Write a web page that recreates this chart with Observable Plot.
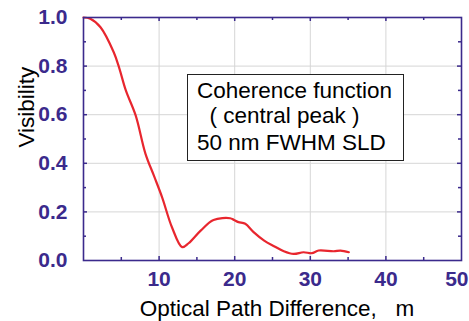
<!DOCTYPE html>
<html>
<head>
<meta charset="utf-8">
<script src="https://cdn.jsdelivr.net/npm/d3@7"></script>
<script src="https://cdn.jsdelivr.net/npm/@observablehq/plot@0.6"></script>
<style>
  html, body { margin: 0; padding: 0; background: #fff; }
  #wrap { position: relative; width: 469px; height: 321px; }
  svg text { white-space: pre; }
  #box {
    position: absolute; left: 187px; top: 74px; width: 215px; height: 85px;
    border: 1px solid #222; background: #fff;
    font-family: "Liberation Sans", Arial, sans-serif; font-size: 22.5px; color: #000;
    box-sizing: content-box;
  }
  #box div { position: absolute; left: 9px; white-space: pre; line-height: 1; }
</style>
</head>
<body>
<div id="wrap"></div>
<script>
// Data
const opd = [0, 0.9, 2.25, 4.0, 4.7, 5.6, 6.9, 8.2, 9.3, 10.4, 11.7, 13.05, 13.9, 15.5, 17.2, 19.4, 19.9, 20.5, 21.4, 22.5, 23.9, 25.2, 26.5, 27.8, 29.1, 30.2, 31.1, 33.1, 34.0, 35.1];
const visibility = [1.0, 0.995, 0.96, 0.857, 0.795, 0.70, 0.597, 0.439, 0.35, 0.26, 0.137, 0.055, 0.071, 0.123, 0.167, 0.174, 0.167, 0.158, 0.151, 0.117, 0.082, 0.059, 0.038, 0.027, 0.034, 0.030, 0.041, 0.038, 0.041, 0.034];

const xTickLabels = [10, 20, 30, 40];
const xLastTickLabel = [50];
const yTickLabels = [0.0, 0.2, 0.4, 0.6, 0.8, 1.0];
const xGrid = [10, 20, 30, 40];
const yGrid = [0.2, 0.4, 0.6, 0.8];
const xMajorTicks = [10, 20, 30, 40];
const xMinorTicks = [5, 15, 25, 35, 45];
const yMajorTicks = [0.2, 0.4, 0.6, 0.8];
const yMinorTicks = [0.1, 0.3, 0.5, 0.7, 0.9];
const xLabel = "Optical Path Difference,   m";
const yLabel = "Visibility";
const boxLines = ["Coherence function", "  ( central peak )", "50 nm FWHM SLD"];

const data = opd.map((x, i) => ({x, v: visibility[i]}));

const purple = "#3b2a8c";
const red = "#e8262e";
const font = "'Liberation Sans', Arial, sans-serif";
const plotH = 321 - 17 - 61;
const plotW = 469 - 83 - 8;

const tickStyle = {fill: purple, fontSize: 21, fontWeight: "bold", lineAnchor: "middle"};

const chart = Plot.plot({
  width: 469,
  height: 321,
  marginLeft: 83,
  marginRight: 8,
  marginTop: 17,
  marginBottom: 61,
  style: {fontFamily: font, background: "#fff"},
  x: {domain: [0, 50], axis: null},
  y: {domain: [0, 1], axis: null},
  marks: [
    Plot.ruleX(xGrid, {x: d => d, stroke: "#d6d6d6", strokeWidth: 1}),
    Plot.ruleY(yGrid, {y: d => d, stroke: "#d6d6d6", strokeWidth: 1}),
    // bottom ticks
    Plot.tickX(xMajorTicks, {x: d => d, stroke: purple, strokeWidth: 1.5, insetTop: plotH - 4}),
    Plot.tickX(xMinorTicks, {x: d => d, stroke: purple, strokeWidth: 1.5, insetTop: plotH - 3}),
    // top ticks
    Plot.tickX(xMajorTicks, {x: d => d, stroke: purple, strokeWidth: 1.5, insetBottom: plotH - 4}),
    Plot.tickX(xMinorTicks, {x: d => d, stroke: purple, strokeWidth: 1.5, insetBottom: plotH - 3}),
    // left ticks
    Plot.tickY(yMajorTicks, {y: d => d, stroke: purple, strokeWidth: 1.5, insetRight: plotW - 4}),
    Plot.tickY(yMinorTicks, {y: d => d, stroke: purple, strokeWidth: 1.5, insetRight: plotW - 3}),
    // right ticks
    Plot.tickY(yMajorTicks, {y: d => d, stroke: purple, strokeWidth: 1.5, insetLeft: plotW - 4}),
    Plot.tickY(yMinorTicks, {y: d => d, stroke: purple, strokeWidth: 1.5, insetLeft: plotW - 3}),
    Plot.line(data, {x: "x", y: "v", stroke: red, strokeWidth: 2.2, curve: "catmull-rom"}),
    Plot.frame({stroke: purple, strokeWidth: 1.6}),
    // tick labels
    Plot.text(xTickLabels, {x: d => d, frameAnchor: "bottom", dy: 19, text: d => String(d), ...tickStyle}),
    Plot.text(xLastTickLabel, {x: d => d, frameAnchor: "bottom", dy: 19, dx: 7, text: d => String(d),
      textAnchor: "end", ...tickStyle}),
    Plot.text(yTickLabels, {y: d => d, frameAnchor: "left", dx: -16, text: d => d.toFixed(1),
      textAnchor: "end", ...tickStyle}),
    // axis labels
    Plot.text([xLabel], {frameAnchor: "bottom", dx: 4.5, dy: 47.8, text: d => d,
      fill: "#000", fontSize: 22.5, lineAnchor: "middle"}),
    Plot.text([yLabel], {frameAnchor: "left", dx: -57, dy: 8.5, rotate: -90, text: d => d,
      fill: "#000", fontSize: 22.5, lineAnchor: "middle"})
  ]
});

const wrap = document.getElementById("wrap");
wrap.appendChild(chart);

const box = document.createElement("div");
box.id = "box";
const tops = [5, 30, 57];
boxLines.forEach((t, i) => {
  const d = document.createElement("div");
  d.textContent = t;
  d.style.top = tops[i] + "px";
  box.appendChild(d);
});
wrap.appendChild(box);
</script>
</body>
</html>
